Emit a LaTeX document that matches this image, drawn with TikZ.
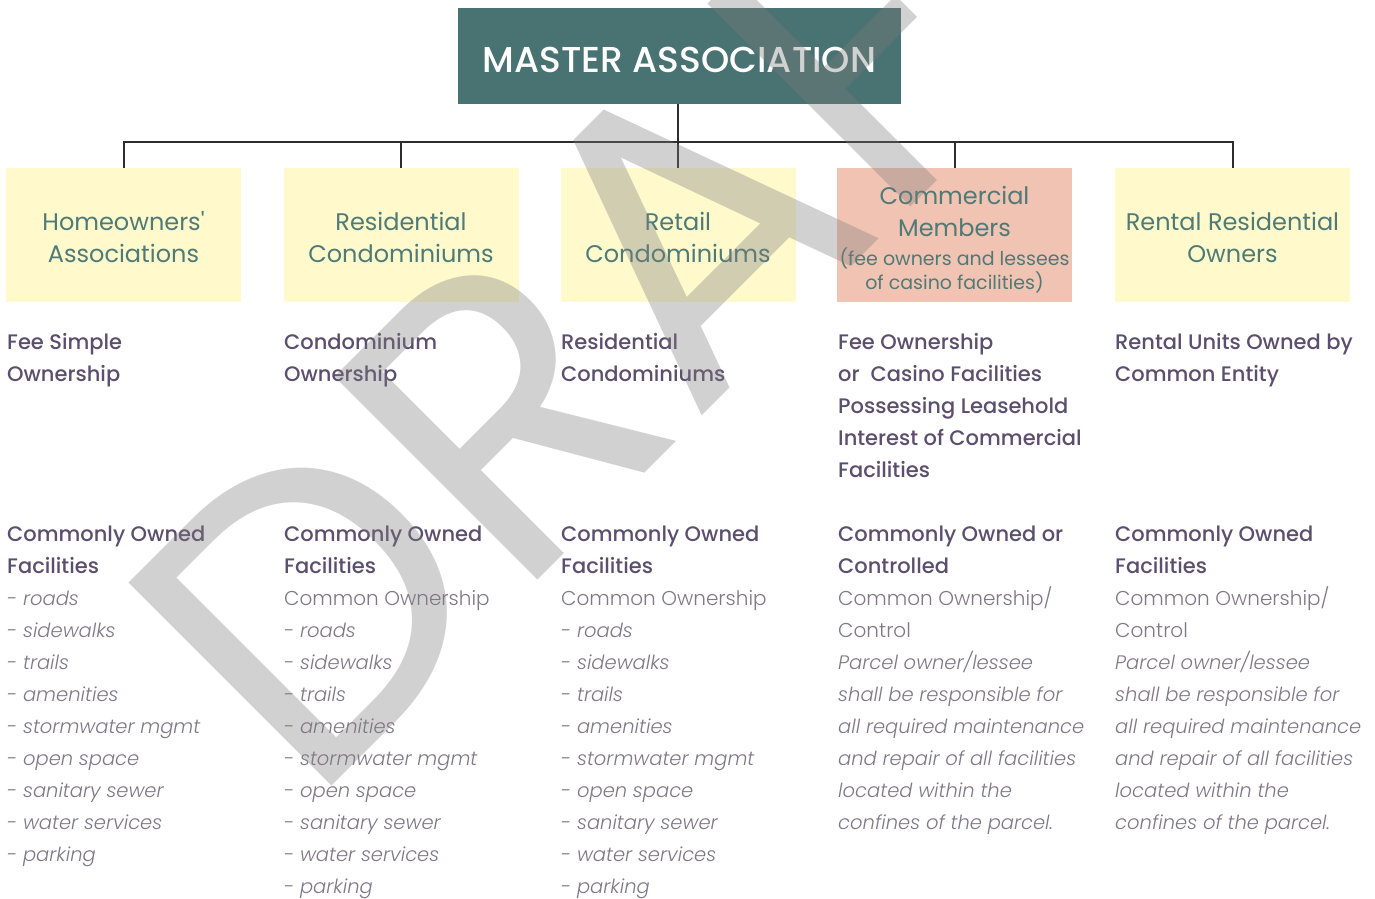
\documentclass[tikz,border=0pt]{standalone}
\usepackage{fontspec}
\setmainfont{Poppins}[BoldFont={Poppins Medium},ItalicFont={Poppins Light Italic}]
\newfontfamily\lightfont{Poppins Light}
\newfontfamily\wmfont{Poppins}
\definecolor{mastercol}{RGB}{73,114,114}
\definecolor{boxyellow}{RGB}{255,249,204}
\definecolor{boxpink}{RGB}{241,195,178}
\definecolor{boxtext}{RGB}{78,122,120}
\definecolor{headcol}{RGB}{92,78,110}
\definecolor{listcol}{RGB}{128,120,135}
\definecolor{linecol}{RGB}{45,45,45}
\definecolor{wmcol}{RGB}{125,125,125}
\newcommand\hd{\bfseries\fontsize{21}{32}\selectfont\color{headcol}}
\newcommand\li{\itshape\fontsize{19.5}{32}\selectfont\color{listcol}}
\newcommand\lu{\lightfont\fontsize{20}{32}\selectfont\color{listcol}}
\tikzset{
  conn/.style={draw=linecol, line width=2pt},
  master/.style={fill=mastercol, text=white, minimum width=443pt, minimum height=96pt, inner sep=0pt, font=\fontsize{36}{40}\selectfont\bfseries},
  catbox/.style={minimum width=235pt, minimum height=134pt, inner sep=0pt, align=center, text=boxtext, font=\fontsize{24}{32}\selectfont},
  ybox/.style={catbox, fill=boxyellow},
  pbox/.style={catbox, fill=boxpink},
  col/.style={anchor=north west, inner sep=0pt, align=left, font=\fontsize{20}{32}\selectfont},
  wm/.style={text=wmcol, text opacity=0.35, inner sep=0pt, font=\wmfont\fontsize{412}{420}\selectfont},
}
\begin{document}
\begin{tikzpicture}[x=1pt,y=-1pt]
\useasboundingbox (0,0) rectangle (1375,898);
\fill[white] (0,0) rectangle (1375,898);
% top
\node[master] (m) at (679.5,56) {\rule{0pt}{34pt}MASTER ASSOCIATION};
% category boxes
\node[ybox] (b1) at (123.5,235) {\rule{0pt}{24pt}Homeowners\textquotesingle\\Associations};
\node[ybox] (b2) at (401,235) {\rule{0pt}{24pt}Residential\\Condominiums};
\node[ybox] (b3) at (678,235) {\rule{0pt}{24pt}Retail\\Condominiums};
\node[pbox] (b4) at (954.5,235) {\rule{0pt}{28pt}Commercial\\Members\\[-3pt]{\fontsize{19}{24}\selectfont(fee owners and lessees}\\[-8pt]{\fontsize{19}{24}\selectfont of casino facilities)}};
\node[ybox] (b5) at (1232.5,235) {\rule{0pt}{24pt}Rental Residential\\Owners};
% connectors
\coordinate (bus) at (678,142);
\draw[conn] (m.south -| bus) -- (bus);
\draw[conn] (b1.north) -- (b1.north |- bus) -- (b5.north |- bus) -- (b5.north);
\foreach \b in {b2,b3,b4} \draw[conn] (\b.north) -- (\b.north |- bus);
% ownership headings
\node[col] (o1) at (7,326.6) {\strut\hd Fee Simple\\\hd Ownership};
\node[col] (o2) at (284,326.6) {\strut\hd Condominium\\\hd Ownership};
\node[col] (o3) at (561,326.6) {\strut\hd Residential\\\hd Condominiums};
\node[col] (o4) at (838,326.6) {\strut\hd Fee Ownership\\\hd or\ \ Casino Facilities\\\hd Possessing Leasehold\\\hd Interest of Commercial\\\hd Facilities};
\node[col] (o5) at (1115,326.6) {\strut\hd Rental Units Owned by\\\hd Common Entity};
% facility lists
\node[col] (f1) at (7,518.6) {\strut\hd Commonly Owned\\\hd Facilities\\\li - roads\\\li - sidewalks\\\li - trails\\\li - amenities\\\li - stormwater mgmt\\\li - open space\\\li - sanitary sewer\\\li - water services\\\li - parking};
\node[col] (f2) at (284,518.6) {\strut\hd Commonly Owned\\\hd Facilities\\\lu Common Ownership\\\li - roads\\\li - sidewalks\\\li - trails\\\li - amenities\\\li - stormwater mgmt\\\li - open space\\\li - sanitary sewer\\\li - water services\\\li - parking};
\node[col] (f3) at (561,518.6) {\strut\hd Commonly Owned\\\hd Facilities\\\lu Common Ownership\\\li - roads\\\li - sidewalks\\\li - trails\\\li - amenities\\\li - stormwater mgmt\\\li - open space\\\li - sanitary sewer\\\li - water services\\\li - parking};
\node[col] (f4) at (838,518.6) {\strut\hd Commonly Owned or\\\hd Controlled\\\lu Common Ownership/\\\lu Control\\\li Parcel owner/lessee\\\li shall be responsible for\\\li all required maintenance\\\li and repair of all facilities\\\li located within the\\\li confines of the parcel.};
\node[col] (f5) at (1115,518.6) {\strut\hd Commonly Owned\\\hd Facilities\\\lu Common Ownership/\\\lu Control\\\li Parcel owner/lessee\\\li shall be responsible for\\\li all required maintenance\\\li and repair of all facilities\\\li located within the\\\li confines of the parcel.};
% watermark
\begin{scope}
\clip (0,0) rectangle (1375,898);
\node[wm, rotate=45, anchor=base west] (draft) at (309,809) {DRAF\kern60pt T};
\end{scope}
\end{tikzpicture}
\end{document}
